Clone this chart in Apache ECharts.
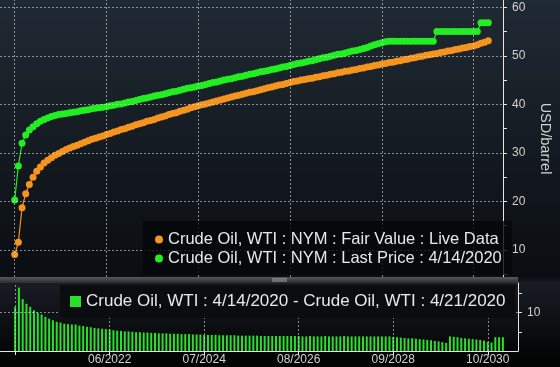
<!DOCTYPE html>
<html><head><meta charset="utf-8">
<script src="https://cdn.jsdelivr.net/npm/echarts@6/dist/echarts.min.js"></script>
<style>html,body{margin:0;padding:0;background:#000;}#c{width:560px;height:367px;}</style>
</head><body><div id="c"></div>
<script>
// Axis months: 01/2020 .. 06/2031 (first contract = 05/2020)
const startYear = 2020, startMonth = 1, monthCount = 138;
const firstContractIndex = 4;
const gridMonths = ['05/2020', '06/2022', '07/2024', '08/2026', '09/2028', '10/2030'];
const tickLabels = ['06/2022', '07/2024', '08/2026', '09/2028', '10/2030'];
const priceTicks = [10, 20, 30, 40, 50, 60];
const priceMinorTicks = [5, 10, 15, 20, 25, 30, 35, 40, 45, 50, 55, 60];
const spreadGridTicks = [10];
const spreadTicks = [5, 10, 15];

const nameFV = 'Crude Oil, WTI : NYM : Fair Value : Live Data';
const nameLP = 'Crude Oil, WTI : NYM : Last Price : 4/14/2020';
const nameSpread = 'Crude Oil, WTI : 4/14/2020 - Crude Oil, WTI : 4/21/2020';

const fairValue = [9.1,11.6,18.7,21.6,23.5,25.0,26.2,27.1,27.9,28.5,
29.0,29.5,29.9,30.3,30.7,31.0,31.3,31.6,31.9,32.2,
32.5,32.8,33.0,33.3,33.5,33.8,34.0,34.3,34.5,34.8,
35.0,35.3,35.5,35.8,36.0,36.2,36.5,36.7,36.9,37.2,
37.4,37.6,37.9,38.1,38.3,38.6,38.8,39.0,39.3,39.5,
39.7,39.9,40.1,40.3,40.5,40.7,40.9,41.1,41.3,41.5,
41.7,41.9,42.1,42.3,42.5,42.6,42.8,43.0,43.2,43.4,
43.6,43.8,44.0,44.1,44.3,44.5,44.7,44.8,45.0,45.1,
45.3,45.4,45.6,45.7,45.9,46.0,46.2,46.3,46.5,46.6,
46.8,46.9,47.1,47.2,47.4,47.5,47.7,47.8,48.0,48.1,
48.3,48.4,48.6,48.7,48.9,49.0,49.2,49.3,49.5,49.6,
49.8,49.9,50.1,50.2,50.4,50.5,50.7,50.8,51.0,51.1,
51.3,51.4,51.6,51.7,51.9,52.0,52.3,52.6,52.8,53.1];

const lastPrice = [20.3,27.3,32.0,33.7,34.7,35.4,36.0,36.5,36.9,37.2,
37.5,37.7,37.9,38.0,38.1,38.3,38.4,38.5,38.7,38.8,
38.9,39.1,39.2,39.3,39.4,39.5,39.7,39.8,40.0,40.1,
40.3,40.5,40.6,40.8,41.0,41.2,41.3,41.5,41.7,41.9,
42.0,42.2,42.4,42.6,42.7,42.9,43.1,43.3,43.4,43.6,
43.8,43.9,44.1,44.3,44.5,44.6,44.8,45.0,45.2,45.3,
45.5,45.7,45.8,46.0,46.2,46.3,46.5,46.7,46.8,47.0,
47.2,47.3,47.5,47.7,47.8,48.0,48.2,48.4,48.5,48.7,
48.9,49.0,49.2,49.4,49.6,49.7,49.9,50.1,50.3,50.4,
50.6,50.8,51.0,51.1,51.3,51.5,51.7,52.0,52.3,52.5,
52.7,52.9,53.0,53.0,53.0,53.0,53.0,53.0,53.0,53.0,
53.0,53.0,53.0,53.0,53.0,55.0,55.0,55.0,55.0,55.0,
55.0,55.0,55.0,55.0,55.0,55.0,55.0,56.8,56.8,56.8];

const spread = [11.5,16.5,13.5,12.3,11.5,10.6,10.0,9.5,8.9,8.4,
8.0,7.6,7.4,7.1,7.0,6.9,6.9,6.6,6.5,6.3,
6.2,6.0,5.9,5.8,5.7,5.6,5.4,5.3,5.2,5.1,
5.1,5.0,4.9,4.9,4.8,4.8,4.7,4.7,4.6,4.6,
4.6,4.5,4.5,4.5,4.4,4.4,4.4,4.3,4.3,4.3,
4.2,4.2,4.2,4.2,4.1,4.1,4.1,4.1,4.1,4.0,
4.0,4.0,4.0,4.0,4.0,3.9,3.9,3.9,3.9,3.9,
3.9,3.9,3.9,3.9,3.9,3.9,3.8,3.8,3.9,3.8,
3.8,3.8,3.9,3.8,3.8,3.8,3.8,3.9,3.8,3.8,
3.8,3.8,3.8,3.8,3.8,3.8,3.8,3.8,3.8,3.8,
3.7,3.6,3.5,3.4,3.3,3.3,3.2,3.1,3.0,2.9,
2.8,2.6,2.5,2.3,2.1,3.8,3.7,3.6,3.4,3.3,
3.2,3.1,3.0,2.9,2.7,2.4,2.2,3.6,3.6,3.6];

// ---- build ----
const categories = [];
for (let k = 0; k < monthCount; k++) {
  const m = (startMonth - 1 + k) % 12 + 1;
  const y = startYear + Math.floor((startMonth - 1 + k) / 12);
  categories.push(String(m).padStart(2, '0') + '/' + y);
}
function pad(arr) {
  const out = new Array(monthCount).fill(null);
  arr.forEach((v, i) => { out[firstContractIndex + i] = v; });
  return out;
}
const FONT = 'Liberation Sans';
const ORANGE = '#f5941e', GREEN = '#22ee22', BARGREEN = '#2be02b';
const AXISCOL = '#e6e6e6', LABELCOL = '#d2d2d2';
const tickIdx = (i) => (i - firstContractIndex) % 25 === 0 && i >= firstContractIndex;
const labelIdx = (i, v) => tickLabels.indexOf(v) >= 0;
const dash = { color: 'rgba(215,220,225,0.6)', type: [2, 2], width: 1 };
function gridLines(xs, ys) {
  return { symbol: 'none', silent: true, animation: false, label: { show: false },
    emphasis: { disabled: true }, lineStyle: dash,
    data: xs.map(c => ({ xAxis: c })).concat(ys.map(v => ({ yAxis: v }))) };
}

const chart = echarts.init(document.getElementById('c'), null, { renderer: 'canvas' });
chart.setOption({
  animation: false,
  backgroundColor: {
    type: 'linear', x: 0, y: 0, x2: 0, y2: 1,
    colorStops: [
      { offset: 0, color: '#202a34' },
      { offset: 0.755, color: '#0a0d11' },
      { offset: 0.771, color: '#181d24' },
      { offset: 0.956, color: '#050607' },
      { offset: 1, color: '#030303' }
    ]
  },
  grid: [
    { left: 0, top: 0, width: 518, height: 277, show: false },
    { left: 0, top: 283, width: 518, height: 68, show: false }
  ],
  xAxis: [
    { type: 'category', gridIndex: 0, data: categories, boundaryGap: false,
      axisLine: { show: false }, axisTick: { show: false }, axisLabel: { show: false },
      splitLine: { show: false } },
    { type: 'category', gridIndex: 1, data: categories, boundaryGap: false,
      axisLine: { show: true, lineStyle: { color: AXISCOL, width: 1 } },
      axisTick: { show: true, interval: tickIdx, length: 4, lineStyle: { color: AXISCOL } },
      axisLabel: { interval: labelIdx, color: LABELCOL, fontSize: 12, fontFamily: FONT, margin: 3 },
      splitLine: { show: false } }
  ],
  yAxis: [
    { type: 'value', gridIndex: 0, position: 'right', min: 4.44, max: 61.5, splitNumber: 5,
      axisLine: { show: true, lineStyle: { color: AXISCOL } },
      axisTick: { show: false },
      axisLabel: { customValues: priceTicks, color: LABELCOL, fontSize: 12, fontFamily: FONT, margin: 9 },
      splitLine: { show: false },
      name: 'USD/barrel', nameLocation: 'middle', nameRotate: -90, nameGap: 34,
      nameTextStyle: { color: LABELCOL, fontSize: 14.5, fontFamily: FONT } },
    { type: 'value', gridIndex: 0, position: 'right', min: 4.44, max: 61.5,
      axisLine: { show: false },
      axisTick: { show: true, customValues: priceMinorTicks, length: 4, lineStyle: { color: AXISCOL } },
      axisLabel: { show: false }, splitLine: { show: false } },
    { type: 'value', gridIndex: 1, position: 'right', min: 0, max: 17.7, interval: 10,
      axisLine: { show: true, lineStyle: { color: AXISCOL } },
      axisTick: { show: false },
      axisLabel: { showMinLabel: false, showMaxLabel: false, color: LABELCOL, fontSize: 12, fontFamily: FONT, margin: 9 },
      splitLine: { show: false } },
    { type: 'value', gridIndex: 1, position: 'right', min: 0, max: 17.7,
      axisLine: { show: false },
      axisTick: { show: true, customValues: spreadTicks, length: 4, lineStyle: { color: AXISCOL } },
      axisLabel: { show: false }, splitLine: { show: false } }
  ],
  legend: [
    { data: [nameFV, nameLP], orient: 'vertical', left: 143, top: 221, z: 20,
      padding: [10, 10, 8, 12], itemGap: 2, itemWidth: 8, itemHeight: 8, icon: 'circle',
      backgroundColor: 'rgba(5,7,10,0.8)', selectedMode: false,
      textStyle: { color: '#e8e8e8', fontSize: 16.5, lineHeight: 16, fontFamily: FONT } },
    { data: [nameSpread], left: 60, top: 285, padding: [8, 10, 8, 10], z: 20,
      itemWidth: 11, itemHeight: 11, icon: 'rect', backgroundColor: '#0a0c0f', selectedMode: false,
      textStyle: { color: '#e8e8e8', fontSize: 17, lineHeight: 17, fontFamily: FONT } }
  ],
  graphic: [
    { type: 'rect', shape: { x: 0, y: 277, width: 518, height: 6 }, z: 30,
      style: { fill: { type: 'linear', x: 0, y: 0, x2: 0, y2: 1,
        colorStops: [{ offset: 0, color: '#55585d' }, { offset: 1, color: '#2a2c30' }] } } },
    { type: 'line', shape: { x1: 272, y1: 279, x2: 287, y2: 279 }, z: 31, style: { stroke: '#a0a0a0', lineWidth: 1 } },
    { type: 'line', shape: { x1: 272, y1: 281, x2: 287, y2: 281 }, z: 31, style: { stroke: '#a0a0a0', lineWidth: 1 } }
  ],
  series: [
    { name: 'gridTop', type: 'line', xAxisIndex: 0, yAxisIndex: 0, data: pad([]),
      showSymbol: false, silent: true, z: 1, lineStyle: { width: 0 },
      markLine: gridLines(gridMonths, priceTicks) },
    { name: 'gridBottom', type: 'line', xAxisIndex: 1, yAxisIndex: 2, data: pad([]),
      showSymbol: false, silent: true, z: 1, lineStyle: { width: 0 },
      markLine: gridLines(gridMonths, spreadGridTicks) },
    { name: nameFV, type: 'line', xAxisIndex: 0, yAxisIndex: 0, data: pad(fairValue),
      symbol: 'circle', symbolSize: 7, showSymbol: true, showAllSymbol: true, color: ORANGE,
      itemStyle: { color: ORANGE }, lineStyle: { color: ORANGE, width: 1.2 }, z: 3 },
    { name: nameLP, type: 'line', xAxisIndex: 0, yAxisIndex: 0, data: pad(lastPrice),
      symbol: 'circle', symbolSize: 7, showSymbol: true, showAllSymbol: true, color: GREEN,
      itemStyle: { color: GREEN }, lineStyle: { color: GREEN, width: 1.2 }, z: 4 },
    { name: nameSpread, type: 'bar', xAxisIndex: 1, yAxisIndex: 2, data: pad(spread),
      barWidth: 2, color: BARGREEN, itemStyle: { color: BARGREEN }, z: 3 }
  ]
});
</script>
</body></html>
